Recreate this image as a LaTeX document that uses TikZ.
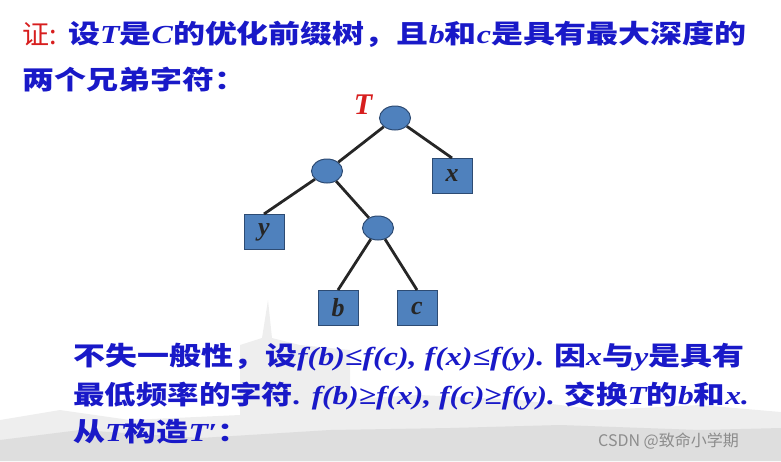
\documentclass[tikz,border=0pt]{standalone}
\usepackage{fontspec}
\setmainfont{Liberation Serif}
\newfontfamily\cjk{Noto Sans CJK SC}
\newfontfamily\lat{Liberation Serif}
\usetikzlibrary{shapes.geometric}
\definecolor{txtblue}{RGB}{25,25,200}
\definecolor{txtred}{RGB}{215,30,30}
\definecolor{nodefill}{RGB}{79,129,189}
\definecolor{nodeedge}{RGB}{45,75,115}
\definecolor{bgA}{RGB}{238,238,238}
\definecolor{bgB}{RGB}{222,222,222}
\newcommand\li[1]{{\lat\bfseries\itshape #1}}
\newcommand\wide[1]{\scalebox{1.23}[1]{#1}}
\newcommand\lowr[1]{\raisebox{-3pt}{#1}}
\tikzset{
  txt/.style={anchor=west, inner sep=0pt, font=\fontsize{26}{30}\selectfont\cjk\bfseries, text=txtblue},
  inner/.style={ellipse, draw=nodeedge, fill=nodefill, line width=1pt, minimum width=31pt, minimum height=24pt, inner sep=0pt},
  leaf/.style={rectangle, draw=nodeedge, fill=nodefill, line width=1pt, minimum width=40pt, minimum height=35pt, inner sep=0pt, font=\fontsize{26}{28}\selectfont\lat\bfseries\itshape, text=black!85},
  edge/.style={line width=2.8pt, black!85}
}
\begin{document}
\begin{tikzpicture}[x=1pt,y=-1pt]
\useasboundingbox (0,0) rectangle (781,461);
% faint background photo silhouette
\fill[bgA] (240,461) -- (240,345) -- (262,338) -- (268,300) -- (272,338) -- (300,345) -- (350,350) -- (350,461) -- cycle;
\fill[bgA] (0,461) -- (0,420) -- (60,410) -- (130,420) -- (240,415) -- (330,400) -- (420,395) -- (520,400) -- (600,410) -- (700,405) -- (781,412) -- (781,461) -- cycle;
\fill[bgB] (0,461) -- (0,440) -- (80,430) -- (200,438) -- (330,430) -- (450,428) -- (560,425) -- (700,430) -- (781,428) -- (781,461) -- cycle;
% header
\node[txt, text=txtred, font=\fontsize{27}{30}\selectfont\cjk] (zheng) at (22,34) {证:};
\node[txt] (l1) at (68,34) {\wide{设\li{T}是\li{C}的优化前缀树，且\li{b}和\li{c}是具有最大深度的}};
\node[txt] (l2) at (22,80) {\wide{两个兄弟字符：}};
% tree
\node[inner] (r) at (395,118) {};
\node[anchor=center, inner sep=0pt, text=txtred, font=\fontsize{30}{34}\selectfont\lat\bfseries\itshape] (tl) at (363,105) {T};
\node[inner] (a) at (327,171) {};
\node[leaf] (x) at (452,176) {\lowr{x}};
\node[leaf] (y) at (264,232) {\lowr{y}};
\node[inner] (d) at (378,228) {};
\node[leaf] (b) at (338,308) {\lowr{b}};
\node[leaf] (c) at (417,308) {\lowr{c}};
\draw[edge] (r) -- (a);
\draw[edge] (r) -- (x.north);
\draw[edge] (a) -- (y.north);
\draw[edge] (a) -- (d);
\draw[edge] (d) -- (b.north);
\draw[edge] (d) -- (c.north);
% bottom text
\node[txt] (m1) at (73,357) {\wide{不失一般性，设\li{f(b)≤f(c), f(x)≤f(y).} 因\li{x}与\li{y}是具有}};
\node[txt] (m2) at (73,396) {\scalebox{1.21}[1]{最低频率的字符\li{. f(b)≥f(x), f(c)≥f(y).} 交换\li{T}的\li{b}和\li{x.}}};
\node[txt] (m3) at (73,432) {\wide{从\li{T}构造\li{T′}：}};
\node[anchor=west, inner sep=0pt, text=black!45, font=\fontsize{16}{18}\selectfont\cjk] (wm) at (598,441) {CSDN @致命小学期};
\end{tikzpicture}
\end{document}
